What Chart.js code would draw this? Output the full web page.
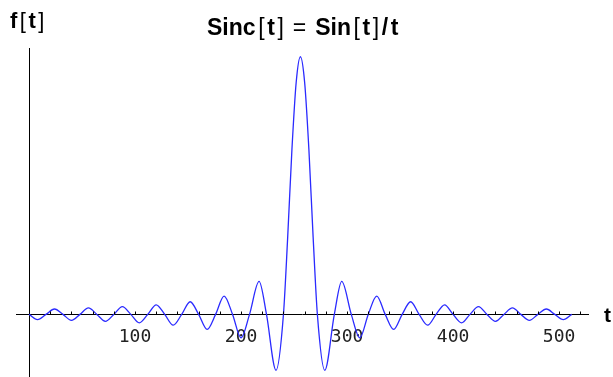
<!DOCTYPE html>
<html lang="en">
<head>
<meta charset="UTF-8">
<title>Sinc[t] = Sin[t]/t</title>
<script src="https://cdn.jsdelivr.net/npm/chart.js"></script>
<style>
    html, body { margin: 0; padding: 0; background: #ffffff; }
    #wrap { width: 613px; height: 377px; }
</style>
</head>
<body>
<div id="wrap"><canvas id="sincChart" width="613" height="377"></canvas></div>
<script>
// values (zeros, lobe extrema, a few points on the main lobe)
var tValues = [0, 8, 16, 24, 32, 40, 48, 56, 64, 72, 80, 88, 96, 104, 112, 120, 128,
    136, 144, 152, 160, 168, 176, 184, 192, 200, 208, 217, 224, 233, 240, 244, 248, 252,
    256, 260, 264, 268, 272, 279, 288, 295, 304, 312, 320, 328, 336, 344, 352, 360, 368,
    376, 384, 392, 400, 408, 416, 424, 432, 440, 448, 456, 464, 472, 480, 488, 496, 504, 512];
var fValues = [0, -0.020, 0, 0.021, 0, -0.023, 0, 0.025, 0, -0.027, 0, 0.030, 0, -0.033, 0, 0.037, 0,
    -0.042, 0, 0.049, 0, -0.058, 0, 0.071, 0, -0.091, 0, 0.128, 0, -0.217, 0, 0.30, 0.64, 0.90,
    1.00, 0.90, 0.64, 0.30, 0, -0.217, 0, 0.128, 0, -0.091, 0, 0.071, 0, -0.058, 0, 0.049, 0,
    -0.042, 0, 0.037, 0, -0.033, 0, 0.030, 0, -0.027, 0, 0.025, 0, -0.023, 0, 0.021, 0, -0.020, 0];
var tickValues = [100, 200, 300, 400, 500];
var tickLabels = ['100', '200', '300', '400', '500'];

var points = tValues.map(function (t, i) { return { x: t, y: fValues[i] }; });

// title and axis labels: bold letters, plain brackets
function drawParts(ctx, parts, x, y, size, gap) {
    parts.forEach(function (p) {
        ctx.font = (p[1] ? 'bold ' : '') + size + 'px "Liberation Sans", Arial, sans-serif';
        ctx.fillText(p[0], x, y);
        x += ctx.measureText(p[0]).width + gap;
    });
}

var decorations = {
    id: 'decorations',
    afterDraw: function (chart) {
        var ctx = chart.ctx;
        var xs = chart.scales.x, ys = chart.scales.y;
        var y0 = Math.round(ys.getPixelForValue(0)) + 0.5;
        ctx.save();
        ctx.strokeStyle = '#000';
        ctx.lineWidth = 1;
        xs.ticks.forEach(function (t) {
            if (t.value <= 0) return;
            var px = Math.round(xs.getPixelForValue(t.value)) + 0.5;
            ctx.beginPath();
            ctx.moveTo(px, y0);
            ctx.lineTo(px, y0 - 3);
            ctx.stroke();
        });
        ctx.fillStyle = '#000';
        ctx.textBaseline = 'alphabetic';
        ctx.textAlign = 'left';
        drawParts(ctx, [['Sinc', 1], ['[', 0], ['t', 1], [']', 0], [' = ', 0], ['Sin', 1],
            ['[', 0], ['t', 1], [']', 0], ['/', 1], ['t', 1]], 207, 35, 23, 2.6);
        drawParts(ctx, [['f', 1], ['[', 0], ['t', 1], [']', 0]], 10, 28, 22, 2.5);
        drawParts(ctx, [['t', 1]], 604, 322, 21, 0);
        ctx.restore();
    }
};

var ctx = document.getElementById('sincChart').getContext('2d');
var sincChart = new Chart(ctx, {
    type: 'line',
    data: {
        datasets: [{
            data: points,
            borderColor: '#2a2aff',
            borderWidth: 1.3,
            pointRadius: 0,
            fill: false,
            cubicInterpolationMode: 'monotone'
        }]
    },
    options: {
        responsive: false,
        animation: false,
        devicePixelRatio: 1,
        layout: { padding: { left: 16, right: 25, top: 48, bottom: 0 } },
        plugins: {
            legend: { display: false },
            title: { display: false },
            tooltip: { enabled: false }
        },
        scales: {
            x: {
                type: 'linear',
                min: -12.3,
                max: 527.3,
                position: { y: 0 },
                grid: { display: false },
                border: { display: true, color: '#000', width: 1 },
                ticks: {
                    stepSize: 20,
                    includeBounds: false,
                    autoSkip: false,
                    maxRotation: 0,
                    padding: 4,
                    color: '#222',
                    font: { family: '"DejaVu Sans Mono", monospace', size: 18 },
                    callback: function (v) {
                        var i = tickValues.indexOf(v);
                        return i >= 0 ? tickLabels[i] : '';
                    }
                }
            },
            y: {
                type: 'linear',
                min: -0.243,
                max: 1.034,
                position: { x: 0 },
                grid: { display: false },
                border: { display: true, color: '#000', width: 1 },
                ticks: { display: false }
            }
        }
    },
    plugins: [decorations]
});
</script>
</body>
</html>
